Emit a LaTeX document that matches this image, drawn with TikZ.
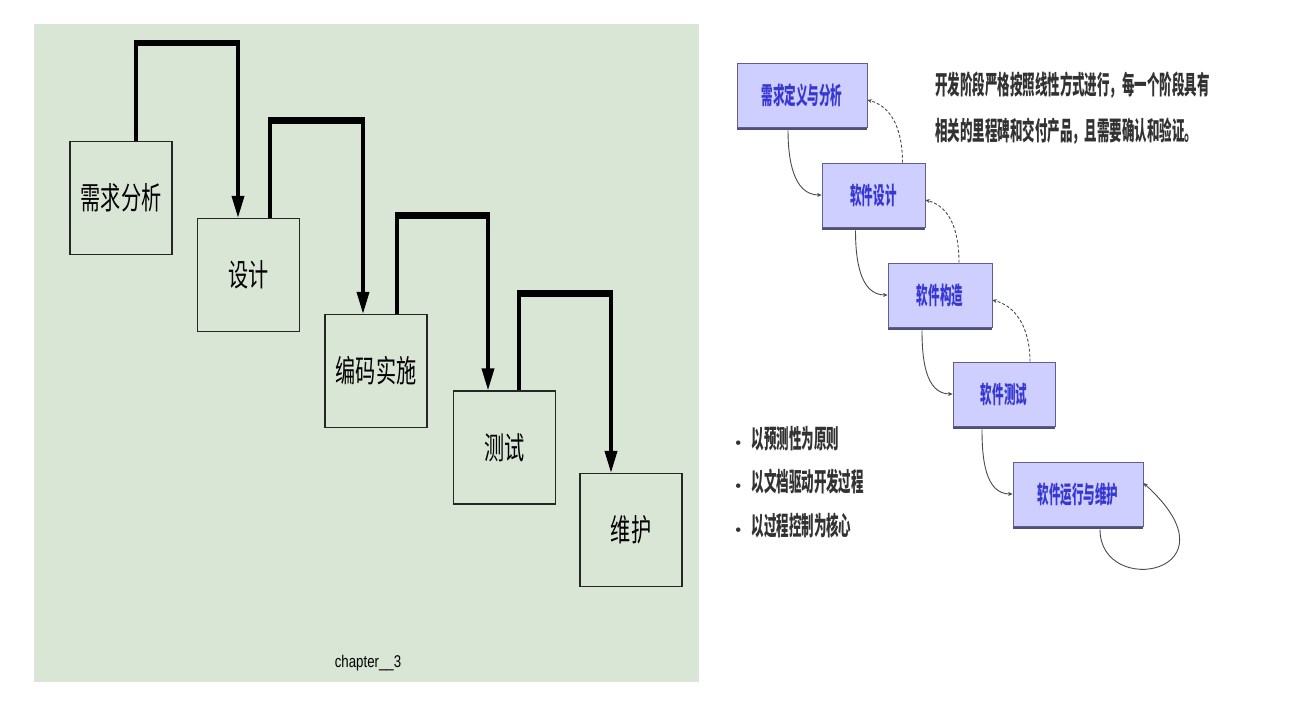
\documentclass[tikz,border=0pt]{standalone}
\usepackage{fontspec}
\usepackage{tikz}
\usetikzlibrary{arrows.meta,shadows}
\newfontfamily\cjkleft[FakeStretch=0.65]{Noto Sans CJK SC}
\newfontfamily\cjkright[FakeStretch=0.48]{Noto Sans CJK SC}
\newfontfamily\capfont[FakeStretch=0.78]{Liberation Sans}
\definecolor{panelgreen}{RGB}{217,230,213}
\definecolor{phasefill}{RGB}{206,206,255}
\definecolor{phaseedge}{RGB}{95,95,140}
\definecolor{phaseshade}{RGB}{80,80,115}
\definecolor{phasetext}{RGB}{55,55,210}
\definecolor{notetext}{RGB}{50,50,50}
\definecolor{linkgray}{RGB}{75,75,75}
\newcommand{\bul}{{\normalfont\fontsize{20}{20}\selectfont\textbullet}\hspace{6pt}}

\begin{document}
\begin{tikzpicture}[
    x=1pt, y=1pt,
    stage/.style={rectangle, draw=black!85, line width=1.1pt, minimum width=102pt, minimum height=113pt, inner sep=0pt, font=\cjkleft\fontsize{31}{31}\selectfont},
    flow/.style={-{Triangle[length=22pt,width=12pt]}, line width=3.5pt},
    bar/.style={line width=6.5pt, shorten <=-1.75pt, shorten >=-1.75pt},
    phase/.style={rectangle, draw=phaseedge, line width=0.8pt, fill=phasefill, minimum height=64pt, inner sep=0pt, text=phasetext, font=\cjkright\bfseries\fontsize{24}{24}\selectfont, drop shadow={shadow xshift=0pt, shadow yshift=-3pt, fill=phaseshade, opacity=1}},
    link/.style={-{Stealth[length=4.5pt,width=4pt]}, draw=linkgray, line width=0.9pt},
    back/.style={link, densely dashed},
    note/.style={anchor=west, align=left, inner sep=0pt, text=notetext, font=\cjkright\bfseries\fontsize{26}{46}\selectfont}
]
\fill[white] (0,0) rectangle (1312,724);
\useasboundingbox (0,0) rectangle (1312,724);

% left panel
\fill[panelgreen] (34,42) rectangle (699,700);
\node[stage] (req) at (121,526) {需求分析};
\node[stage] (des) at (248.5,449) {设计};
\node[stage] (cod) at (376,353) {编码实施};
\node[stage] (tst) at (504.5,276.5) {测试};
\node[stage] (mnt) at (631,194) {维护};
\node[font=\capfont\fontsize{17}{17}\selectfont] (cap) at (368,61) {chapter\_\_3};

\draw[flow] ([xshift=15pt]req.north) -- ++(0,98) coordinate (u1) -| ([xshift=-10.5pt]des.north) coordinate (e1);
\draw[bar] (u1) -- (u1 -| e1);
\draw[flow] ([xshift=21.5pt]des.north) -- ++(0,97.5) coordinate (u2) -| ([xshift=-13pt]cod.north) coordinate (e2);
\draw[bar] (u2) -- (u2 -| e2);
\draw[flow] ([xshift=21pt]cod.north) -- ++(0,98.5) coordinate (u3) -| ([xshift=-16.5pt]tst.north) coordinate (e3);
\draw[bar] (u3) -- (u3 -| e3);
\draw[flow] ([xshift=14.5pt]tst.north) -- ++(0,97) coordinate (u4) -| ([xshift=-20pt]mnt.north) coordinate (e4);
\draw[bar] (u4) -- (u4 -| e4);

% right panel
\node[phase, minimum width=130pt] (rdef) at (802,629) {需求定义与分析};
\node[phase, minimum width=103pt] (rdes) at (873.5,529) {软件设计};
\node[phase, minimum width=104pt] (rcon) at (940,429) {软件构造};
\node[phase, minimum width=102pt] (rtst) at (1004,330) {软件测试};
\node[phase, minimum width=130pt] (rops) at (1078,230) {软件运行与维护};

\node[note] (goal) at (935,616) {开发阶段严格按照线性方式进行，每一个阶段具有\\相关的里程碑和交付产品，且需要确认和验证。};
\node[note, font=\cjkright\bfseries\fontsize{26}{43.5}\selectfont] (rules) at (731,242) {\bul 以预测性为原则\\\bul 以文档驱动开发过程\\\bul 以过程控制为核心};

\draw[link] ([xshift=-14pt,yshift=-3pt]rdef.south) to[out=-90,in=180] (rdes.west);
\draw[link] ([xshift=-18pt,yshift=-3pt]rdes.south) to[out=-90,in=180] (rcon.west);
\draw[link] ([xshift=-18pt,yshift=-3pt]rcon.south) to[out=-90,in=180] (rtst.west);
\draw[link] ([xshift=-22pt,yshift=-3pt]rtst.south) to[out=-90,in=180] (rops.west);

\draw[back] ([xshift=29pt]rdes.north) to[out=90,in=-15] ([yshift=-5pt]rdef.east);
\draw[back] ([xshift=19pt]rcon.north) to[out=90,in=-15] ([yshift=-5pt]rdes.east);
\draw[back] ([xshift=26pt]rtst.north) to[out=90,in=-15] ([yshift=-5pt]rcon.east);

\draw[link] ([xshift=22pt,yshift=-3pt]rops.south) .. controls +(0,-70) and +(100,-90) .. ([yshift=11pt]rops.east);
\end{tikzpicture}
\end{document}
